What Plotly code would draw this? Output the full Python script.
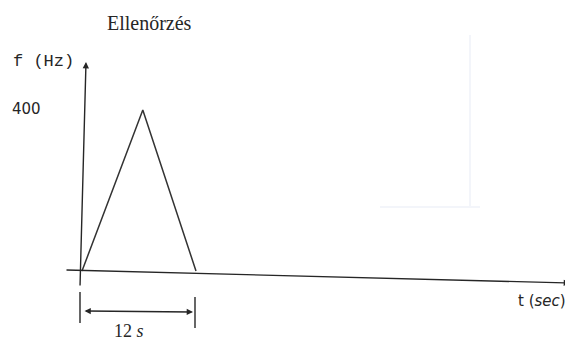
import plotly.graph_objects as go

# triangle sweep: time (s) vs frequency (Hz)
T_SEC = [0, 6.4, 12]
F_HZ = [0, 400, 0]

TITLE = "Ellenőrzés"
Y_LABEL = "f (Hz)"
X_LABEL = "t (<i>sec</i>)"
PEAK_LABEL = "400"
SPAN_LABEL = "12 <i>s</i>"

# the page body has an 8px margin, so the figure is drawn 8px in from the window corner
OFF = 8
W, H = 573 - OFF, 344 - OFF
# window pixel <-> data mapping (t=0 at px 82, t=12 at px 196; f=0 at py 271, f=400 at py 110)
PX_PER_S = (196 - 82) / 12
HZ_PER_PX = 400 / (271 - 110)


def tx(px):
    return (px - 82) / PX_PER_S


def fy(py):
    return (271 - py) * HZ_PER_PX


INK = "#262626"

fig = go.Figure()

fig.add_trace(go.Scatter(x=T_SEC, y=F_HZ, mode="lines",
                         line=dict(color="#333333", width=1.5),
                         hoverinfo="skip", showlegend=False))

# faint show-through from the back of the scanned page
for x0, y0, x1, y1 in [(470, 35, 470, 208), (380, 207, 480, 207)]:
    fig.add_shape(type="line", xref="x", yref="y",
                  x0=tx(x0), y0=fy(y0), x1=tx(x1), y1=fy(y1),
                  line=dict(color="#f3f5fa", width=2))

arrows = [
    # x axis (slightly tilted like the scan)
    dict(x=tx(570), y=fy(283), ax=tx(65), ay=fy(270), arrowside="end"),
    # y axis
    dict(x=tx(86), y=fy(62), ax=tx(80), ay=fy(287), arrowside="end"),
    # 12 s dimension arrow
    dict(x=tx(193), y=fy(312), ax=tx(83), ay=fy(311), arrowside="end+start"),
]
for a in arrows:
    fig.add_annotation(x=a["x"], y=a["y"], ax=a["ax"], ay=a["ay"],
                       xref="x", yref="y", axref="x", ayref="y",
                       text="", showarrow=True, arrowhead=2, arrowsize=0.9,
                       arrowwidth=1.4, arrowcolor=INK, arrowside=a["arrowside"])

# dimension ticks
for x0, y0, y1 in [(80, 292, 323), (195, 297, 328)]:
    fig.add_shape(type="line", xref="x", yref="y",
                  x0=tx(x0), y0=fy(y0), x1=tx(x0), y1=fy(y1),
                  line=dict(color=INK, width=1.4))

labels = [
    (TITLE, 149, 23, "Liberation Serif", 20),
    (Y_LABEL, 43, 61, "Liberation Mono", 17),
    (PEAK_LABEL, 26, 109, "DejaVu Sans", 15),
    (X_LABEL, 542, 301, "DejaVu Sans", 15),
    (SPAN_LABEL, 129, 331, "Liberation Serif", 18),
]
for text, px, py, family, size in labels:
    fig.add_annotation(x=tx(px), y=fy(py), xref="x", yref="y", text=text,
                       showarrow=False, xanchor="center", yanchor="middle",
                       font=dict(family=family, size=size, color=INK))

fig.update_xaxes(range=[tx(OFF), tx(OFF + W)], visible=False, fixedrange=True)
fig.update_yaxes(range=[fy(OFF + H), fy(OFF)], visible=False, fixedrange=True)
fig.update_layout(width=W, height=H, margin=dict(l=0, r=0, t=0, b=0),
                  plot_bgcolor="white", paper_bgcolor="white")

fig.write_html("out.html")
